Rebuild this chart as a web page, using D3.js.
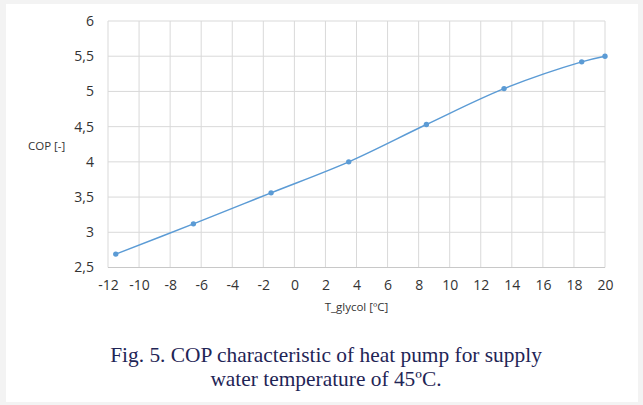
<!DOCTYPE html>
<html>
<head>
<meta charset="utf-8">
<script src="https://cdn.jsdelivr.net/npm/d3@7"></script>
<style>
    html, body { margin: 0; padding: 0; background: #f3f3f3; }
    svg { display: block; }
</style>
</head>
<body>
<svg id="chart" width="643" height="405"></svg>
<script>
// values
var tGlycol = [-11.5, -6.5, -1.5, 3.5, 8.5, 13.5, 18.5, 20];
var cop = [2.69, 3.12, 3.56, 4.0, 4.53, 5.04, 5.42, 5.5];
var xTicks = [-12, -10, -8, -6, -4, -2, 0, 2, 4, 6, 8, 10, 12, 14, 16, 18, 20];
var yTicks = [2.5, 3, 3.5, 4, 4.5, 5, 5.5, 6];
var xTitle = "T_glycol [\u00baC]";
var yTitle = "COP [-]";
var captionLines = ["Fig. 5. COP characteristic of heat pump for supply", "water temperature of 45\u00baC."];

var svg = d3.select("#chart");
var width = +svg.attr("width");
var height = +svg.attr("height");
var margin = { top: 21, right: 38, bottom: 137.5, left: 108 };
var innerW = width - margin.left - margin.right;
var innerH = height - margin.top - margin.bottom;

// white sheet with faint grey border round it
svg.append("rect")
    .attr("x", 6).attr("y", 4)
    .attr("width", 632).attr("height", 398)
    .attr("fill", "#fff");

var g = svg.append("g").attr("transform", "translate(" + margin.left + "," + margin.top + ")");

var x = d3.scaleLinear().domain([-12, 20]).range([0, innerW]);
var y = d3.scaleLinear().domain([2.5, 6]).range([innerH, 0]);

var data = tGlycol.map(function(t, i) { return { t: t, cop: cop[i] }; });
var fmt = function(d) { return String(d).replace(".", ","); };

// Attach grid
g.append("g")
    .selectAll("line.v")
    .data(xTicks)
    .enter().append("line")
    .attr("x1", function(d) { return x(d); })
    .attr("x2", function(d) { return x(d); })
    .attr("y1", 0).attr("y2", innerH)
    .attr("stroke", "#d9d9d9").attr("stroke-width", 1);

g.append("g")
    .selectAll("line.h")
    .data(yTicks)
    .enter().append("line")
    .attr("x1", 0).attr("x2", innerW)
    .attr("y1", function(d) { return y(d); })
    .attr("y2", function(d) { return y(d); })
    .attr("stroke", function(d) { return d === 2.5 ? "#c8c8c8" : "#d9d9d9"; })
    .attr("stroke-width", 1);

// Attach X Axis
var xAxis = g.append("g")
    .attr("transform", "translate(0," + innerH + ")")
    .call(d3.axisBottom(x).tickValues(xTicks).tickSize(0).tickPadding(13).tickFormat(function(d) { return String(d); }));
xAxis.select(".domain").remove();
xAxis.selectAll("text")
    .attr("fill", "#333")
    .style("font-family", "'Open Sans', sans-serif")
    .style("font-size", "14px");

// Attach Y Axis
var yAxis = g.append("g")
    .call(d3.axisLeft(y).tickValues(yTicks).tickSize(0).tickPadding(14).tickFormat(fmt));
yAxis.select(".domain").remove();
yAxis.selectAll("text")
    .attr("fill", "#333")
    .style("font-family", "'Open Sans', sans-serif")
    .style("font-size", "14px");

// axis titles
svg.append("text")
    .attr("x", margin.left + innerW / 2)
    .attr("y", 310.5)
    .attr("text-anchor", "middle")
    .attr("fill", "#333")
    .style("font-family", "'Open Sans', sans-serif")
    .style("font-size", "11.5px")
    .text(xTitle);

svg.append("text")
    .attr("x", 28)
    .attr("y", 149.5)
    .attr("fill", "#333")
    .style("font-family", "'Open Sans', sans-serif")
    .style("font-size", "11.5px")
    .text(yTitle);

// Attach line
var line = d3.line()
    .x(function(d) { return x(d.t); })
    .y(function(d) { return y(d.cop); })
    .curve(d3.curveCatmullRom);

g.append("path")
    .datum(data)
    .attr("fill", "none")
    .attr("stroke", "#5b9bd5")
    .attr("stroke-width", 1.5)
    .attr("d", line);

g.selectAll("circle")
    .data(data)
    .enter().append("circle")
    .attr("cx", function(d) { return x(d.t); })
    .attr("cy", function(d) { return y(d.cop); })
    .attr("r", 2.7)
    .attr("fill", "#5b9bd5");

// caption
svg.selectAll("text.caption")
    .data(captionLines)
    .enter().append("text")
    .attr("class", "caption")
    .attr("x", 326)
    .attr("y", function(d, i) { return 361.5 + i * 24.5; })
    .attr("text-anchor", "middle")
    .attr("fill", "#1f2556")
    .style("font-family", "'Liberation Serif', 'Times New Roman', serif")
    .style("font-size", "21.4px")
    .text(function(d) { return d; });
</script>
</body>
</html>
